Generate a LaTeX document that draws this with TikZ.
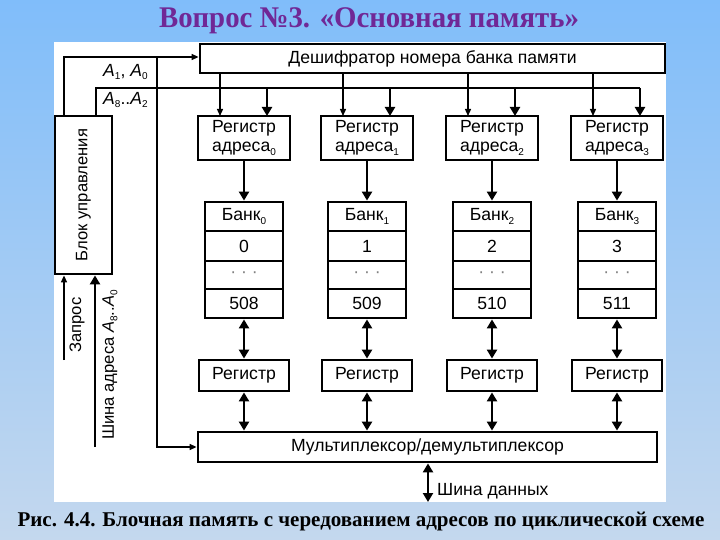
\documentclass[tikz,border=0pt]{standalone}
\usepackage{fontspec}
\setmainfont{Liberation Sans}
\newfontfamily\serifface{Liberation Serif}
\usetikzlibrary{arrows.meta}
\definecolor{bgtop}{RGB}{128,189,250}
\definecolor{bgbot}{RGB}{196,216,238}
\definecolor{titlecol}{RGB}{112,40,150}
\newcommand{\dtext}{\fontsize{17.6}{19}\selectfont}
\newcommand{\rtext}{\fontsize{16.6}{18}\selectfont}
\newcommand{\subs}[1]{\raisebox{-0.4ex}{\fontsize{10}{10}\selectfont #1}}
\begin{document}
\begin{tikzpicture}[x=1pt,y=-1pt,
  box/.style={draw, line width=2.8pt, fill=white, inner sep=0pt, align=center, font=\dtext},
  lbl/.style={font=\dtext, inner sep=0pt},
  thinarr/.style={line width=1.3pt, -{Triangle[length=7pt,width=6pt]}},
  thickarr/.style={line width=2.4pt, -{Triangle[length=9pt,width=10pt]}},
  dblarr/.style={line width=2.4pt, {Triangle[length=9pt,width=10pt]}-{Triangle[length=9pt,width=10pt]}},
  busline/.style={line width=1.5pt}]
\useasboundingbox (0,0) rectangle (720,540);
\shade[top color=bgtop,bottom color=bgbot] (0pt,0pt) rectangle (720pt,-540pt);
\fill[white] (54,42) rectangle (666,502);
\node[font=\serifface\bfseries\fontsize{30}{32}\selectfont, text=titlecol, xscale=0.96] (title) at (369,21) {Вопрос №3. «Основная память»};
\node[font=\serifface\bfseries\fontsize{21}{23}\selectfont] (cap) at (361,522) {Рис. 4.4. Блочная память с чередованием адресов по циклической схеме};
% main blocks
\node[box, minimum width=465, minimum height=29] (dec) at (432.5,58.5) {Дешифратор номера банка памяти};
\node[box, minimum width=459, minimum height=30] (mux) at (427.5,447) {Мультиплексор/демультиплексор};
\node[box, rotate=90, minimum width=158, minimum height=57, font=\rtext] (ctrl) at (83.5,195) {Блок управления};
% columns
\foreach \i/\c/\v in {0/244/508,1/367/509,2/492/510,3/617/511}{
  \node[box, minimum width=92, minimum height=44] (ra\i) at (\c,138) {Регистр\\адреса\subs{\i}};
  \node[box, minimum width=78, minimum height=29] (bka\i) at (\c,216.5) {Банк\subs{\i}};
  \node[box, minimum width=78, minimum height=30] (bkb\i) at (\c,246) {\i};
  \node[box, minimum width=78, minimum height=28] (bkc\i) at (\c,275) {\textcolor{gray}{· · ·}};
  \node[box, minimum width=78, minimum height=29] (bkd\i) at (\c,303.5) {\v};
  \node[box, minimum width=90, minimum height=31] (rg\i) at (\c,375.5) {Регистр};
  \coordinate (t\i) at (\c-24,116);
  \coordinate (k\i) at (\c+23,116);
  \coordinate (b\i) at (\c+23,88);
  \draw[thinarr] (dec.south -| t\i) -- (t\i);
  \draw[thickarr] (b\i) -- (k\i);
  \draw[thickarr] (ra\i) -- (bka\i);
  \draw[dblarr] (bkd\i) -- (rg\i);
  \draw[dblarr] (rg\i) -- (mux.north -| rg\i);
}
% control connections
\coordinate (c1) at (64,57);
\coordinate (c2) at (157,57);
\coordinate (c3) at (157,447);
\coordinate (c4) at (96,88);
\draw[thinarr] (ctrl.east -| c1) -- (c1) -- (dec.west |- c1);
\draw[thinarr] (c2) -- (c3) -- (mux.west);
\draw[busline] (ctrl.east -| c4) -- (c4) -- (b3);
\coordinate (z) at (64,360);
\coordinate (w) at (95,447);
\draw[thinarr] (z) -- (ctrl.west -| z);
\draw[thickarr] (w) -- (ctrl.west -| w);
\node[lbl, rotate=90, font=\rtext] (lz) at (77,325) {Запрос};
\node[lbl, rotate=90, font=\rtext] (lw) at (110,365) {Шина адреса \textit{A}\subs{8}..\textit{A}\subs{0}};
\node[lbl, anchor=west] (la1) at (103,72) {\textit{A}\subs{1}, \textit{A}\subs{0}};
\node[lbl, anchor=west] (la2) at (103,100) {\textit{A}\subs{8}..\textit{A}\subs{2}};
\coordinate (db) at (428,502);
\draw[dblarr] (mux.south -| db) -- (db);
\node[lbl, anchor=west] (ldb) at (437,491) {Шина данных};
\end{tikzpicture}
\end{document}
